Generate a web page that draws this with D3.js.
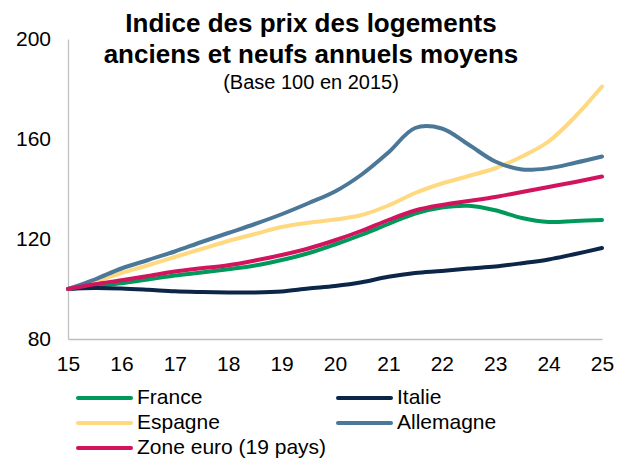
<!DOCTYPE html>
<html>
<head>
<meta charset="utf-8">
<script src="https://cdn.jsdelivr.net/npm/d3@7"></script>
<style>
  body { margin: 0; background: #fff; }
  text { font-family: "Liberation Sans", Arial, sans-serif; fill: #000; }
</style>
</head>
<body>
<div id="chart"></div>
<script>
// half-year points, years shown as 2-digit (15 = 2015)
const periods = [15, 15.5, 16, 16.5, 17, 17.5, 18, 18.5, 19, 19.5, 20, 20.5, 21, 21.5, 22, 22.5, 23, 23.5, 24, 24.5, 25];
const france    = [100, 101.2, 102.3, 103.8, 105.4, 106.6, 107.9, 109.4, 111.6, 114.3, 117.8, 121.7, 126.0, 130.2, 132.6, 133.3, 131.5, 128.4, 126.8, 127.2, 127.6];
const italie    = [100, 100.4, 100.2, 99.7, 99.1, 98.8, 98.6, 98.6, 99.0, 100.2, 101.2, 102.7, 104.9, 106.4, 107.2, 108.2, 109.0, 110.3, 111.8, 114.0, 116.4];
const espagne   = [100, 103.0, 106.4, 109.5, 112.8, 116.0, 119.2, 122.0, 124.8, 126.5, 127.8, 129.6, 133.4, 138.4, 142.2, 145.2, 148.3, 153.0, 159.0, 169.0, 181.0];
const allemagne = [100, 103.8, 108.2, 111.6, 115.0, 118.8, 122.4, 126.0, 129.9, 134.3, 139.0, 145.8, 154.6, 164.4, 164.2, 157.8, 151.0, 147.8, 148.3, 150.5, 153.0];
const zoneEuro  = [100, 101.9, 103.5, 105.2, 107.0, 108.3, 109.5, 111.4, 113.6, 116.2, 119.5, 123.3, 127.6, 131.4, 133.6, 135.2, 136.8, 138.8, 140.8, 142.8, 145.0];

const seriesNames = ["France", "Italie", "Espagne", "Allemagne", "Zone euro (19 pays)"];
const xTicks = [15, 16, 17, 18, 19, 20, 21, 22, 23, 24, 25];
const yTicks = [80, 120, 160, 200];

const colors = ["#00995a", "#0b2648", "#ffd97f", "#4b7798", "#d2145f"];
const series = [france, italie, espagne, allemagne, zoneEuro];

const width = 628;
const height = 459;
const plot = { left: 68, right: 602, top: 39, bottom: 339 };

const svg = d3.select("#chart")
  .append("svg")
  .attr("width", width)
  .attr("height", height);

const x = d3.scaleLinear().domain([15, 25]).range([plot.left, plot.right]);
const y = d3.scaleLinear().domain([80, 200]).range([plot.bottom, plot.top]);

// axes
const yAxis = d3.axisLeft(y).tickValues(yTicks).tickSize(0).tickPadding(17);
const xAxis = d3.axisBottom(x).tickValues(xTicks).tickSize(0).tickPadding(17);

svg.append("g")
  .attr("transform", `translate(${plot.left},0)`)
  .call(yAxis)
  .call(g => g.select(".domain").attr("stroke", "#bfbfbf").attr("stroke-width", 1.3))
  .call(g => g.selectAll("text").style("font-size", "21px").attr("font-family", null));

svg.append("g")
  .attr("transform", `translate(0,${plot.bottom})`)
  .call(xAxis)
  .call(g => g.select(".domain").attr("stroke", "#bfbfbf").attr("stroke-width", 1.3))
  .call(g => g.selectAll("text").style("font-size", "21px").attr("font-family", null));

// lines
const line = d3.line()
  .x((d, i) => x(periods[i]))
  .y(d => y(d))
  .curve(d3.curveCatmullRom.alpha(0.5));

svg.append("g")
  .selectAll("path")
  .data(series)
  .join("path")
  .attr("d", d => line(d))
  .attr("fill", "none")
  .attr("stroke", (d, i) => colors[i])
  .attr("stroke-width", 4)
  .attr("stroke-linecap", "round")
  .attr("stroke-linejoin", "round");

// title
const title = svg.append("text")
  .attr("text-anchor", "middle")
  .attr("font-weight", "bold")
  .style("font-size", "26px");
title.append("tspan").attr("x", 311).attr("y", 32).text("Indice des prix des logements");
title.append("tspan").attr("x", 311).attr("y", 63).text("anciens et neufs annuels moyens");

svg.append("text")
  .attr("x", 311)
  .attr("y", 89)
  .attr("text-anchor", "middle")
  .style("font-size", "20px")
  .text("(Base 100 en 2015)");

// legend
const legendPos = [[78, 398], [338, 398], [78, 423], [338, 423], [78, 448]];

const legend = svg.append("g")
  .selectAll("g")
  .data(seriesNames)
  .join("g")
  .attr("transform", (d, i) => `translate(${legendPos[i][0]},${legendPos[i][1]})`);

legend.append("line")
  .attr("x1", 0)
  .attr("x2", 53)
  .attr("stroke", (d, i) => colors[i])
  .attr("stroke-width", 4)
  .attr("stroke-linecap", "round");

legend.append("text")
  .attr("x", 59)
  .attr("dy", "0.3em")
  .style("font-size", "21px")
  .text(d => d);
</script>
</body>
</html>
